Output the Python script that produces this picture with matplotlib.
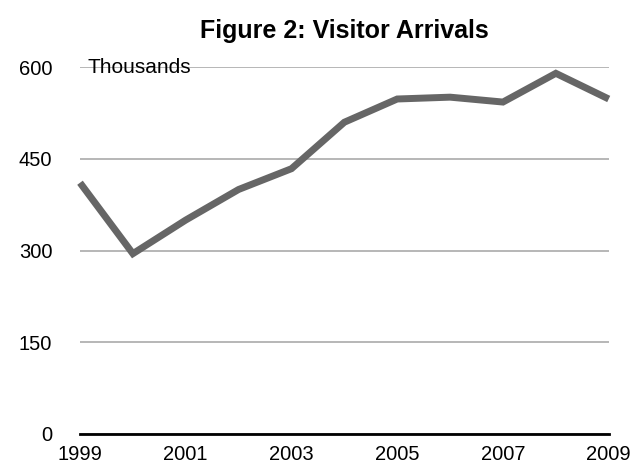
import matplotlib.pyplot as plt

plt.rcParams['font.family'] = ['Liberation Sans', 'DejaVu Sans']

years = [1999, 2000, 2001, 2002, 2003, 2004, 2005, 2006, 2007, 2008, 2009]
arrivals = [411, 295, 350, 400, 434, 510, 548, 551, 543, 590, 548]
yticks = [0, 150, 300, 450, 600]
xticks = [1999, 2001, 2003, 2005, 2007, 2009]

fig = plt.figure(figsize=(6.37, 4.70), dpi=100)
ax = fig.add_axes([0.1256, 0.0766, 0.83, 0.7804])

ax.plot(years, arrivals, color='#666666', linewidth=5, solid_joinstyle='miter',
        solid_capstyle='butt', clip_on=False, zorder=3)

ax.set_xlim(1999, 2009)
ax.set_ylim(0, 600)
ax.set_yticks(yticks)
ax.set_xticks(xticks)
ax.tick_params(length=0, labelsize=14.5, colors='black')
ax.tick_params(axis='y', pad=20)
ax.tick_params(axis='x', pad=8)
ax.yaxis.grid(True, color='#aaaaaa', linewidth=1.2)
ax.set_axisbelow(True)
for s in ['top', 'right', 'left']:
    ax.spines[s].set_visible(False)
ax.spines['bottom'].set_linewidth(2)
ax.spines['bottom'].set_zorder(4)

ax.text(0.015, 1.0, 'Thousands', transform=ax.transAxes, fontsize=15,
        va='center', ha='left', zorder=5)
ax.set_title('Figure 2: Visitor Arrivals', fontsize=18, fontweight='bold', pad=21)

fig.savefig('out.png', dpi=100)
